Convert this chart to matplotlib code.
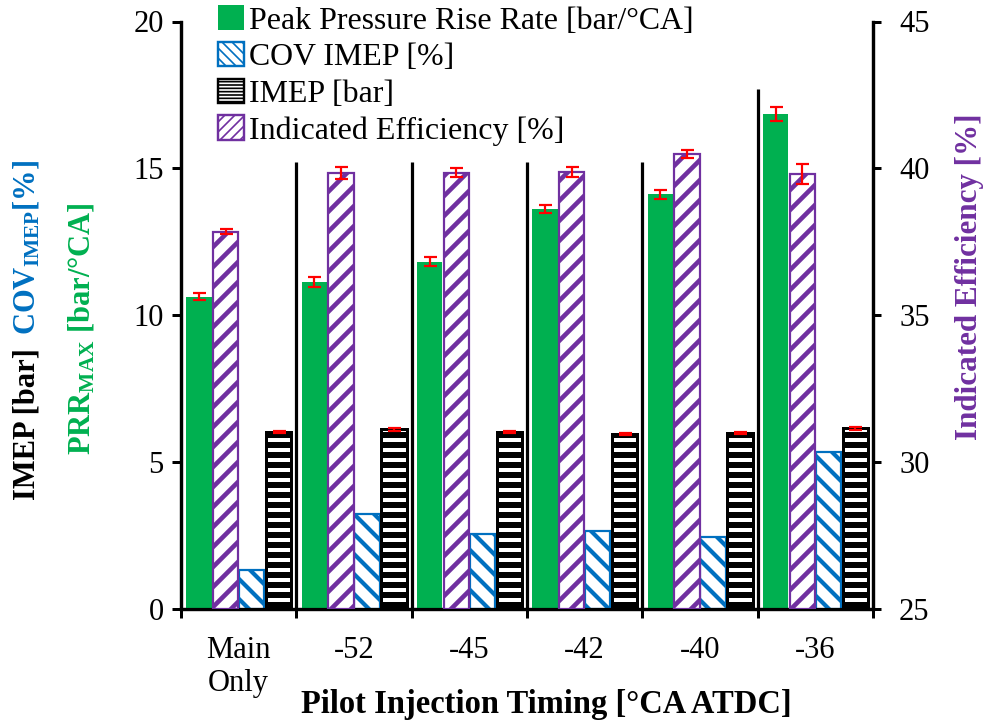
import numpy as np
import matplotlib
matplotlib.use("Agg")
import matplotlib.pyplot as plt
from matplotlib.patches import Patch

plt.rcParams['font.family'] = ['Liberation Serif', 'DejaVu Serif']
plt.rcParams['mathtext.fontset'] = 'custom'
plt.rcParams['mathtext.rm'] = 'Liberation Serif'
plt.rcParams['mathtext.bf'] = 'Liberation Serif:bold'
plt.rcParams['mathtext.it'] = 'Liberation Serif:italic'

# ---------------- data ----------------
categories = ["Main\nOnly", "-52", "-45", "-42", "-40", "-36"]
prr = [10.63, 11.14, 11.82, 13.62, 14.12, 16.86]
prr_err = [0.11, 0.17, 0.16, 0.14, 0.15, 0.24]
efficiency = [37.84, 39.83, 39.85, 39.88, 40.49, 39.81]
eff_err = [0.08, 0.20, 0.15, 0.16, 0.15, 0.33]
cov_imep = [1.32, 3.23, 2.54, 2.64, 2.45, 5.34]
imep = [6.01, 6.11, 6.03, 5.94, 5.98, 6.15]
imep_err = [0.03, 0.05, 0.03, 0.03, 0.03, 0.05]
separator_tops = [15.2, 15.2, 15.2, 15.2, 17.7]

GREEN = "#00B050"
BLUE = "#0070C0"
PURPLE = "#7030A0"
RED = "#FF0000"

DPI = 120
W, H = 991, 721


def pt(v):
    """size given as points at 100 dpi -> points at the actual dpi"""
    return v * 100.0 / DPI


def px(v):
    """pixels -> points"""
    return v * 72.0 / DPI


FS = pt(22)

fig = plt.figure(figsize=(W / DPI, H / DPI), dpi=DPI)
ax = fig.add_axes([181 / W, (H - 608.7) / H, (873 - 181) / W, (608.7 - 21.5) / H])
ax2 = ax.twinx()

n = len(categories)
centers = np.arange(n) + 0.5
offs = [-0.345, -0.113, 0.113, 0.348]
bw = 0.22


def set_hlw(bars, lw):
    for b in bars:
        if hasattr(b, "set_hatch_linewidth"):
            b.set_hatch_linewidth(lw)


err_kw = dict(ecolor=RED, elinewidth=px(2.2), capsize=px(6.5), capthick=px(2.2))

# PRR (green)
ax.bar(centers + offs[0], prr, bw, color=GREEN, edgecolor="none",
       yerr=prr_err, error_kw=err_kw, zorder=3)

# COV (blue hatched)
hl_cov = px(4.2)
with plt.rc_context({'hatch.linewidth': hl_cov}):
    b_cov = ax.bar(centers + offs[2], cov_imep, bw, facecolor="white", edgecolor=BLUE,
                   hatch="\\\\", linewidth=px(2.2), zorder=3)
set_hlw(b_cov, hl_cov)

# IMEP (black horizontal stripes)
hl_imep = px(6.0)
with plt.rc_context({'hatch.linewidth': hl_imep}):
    b_imep = ax.bar(centers + offs[3], imep, bw, facecolor="white", edgecolor="black",
                    hatch="--", linewidth=px(3.0), yerr=imep_err, error_kw=err_kw, zorder=3)
set_hlw(b_imep, hl_imep)

# Efficiency (purple hatched) on right axis
hl_eff = px(4.6)
with plt.rc_context({'hatch.linewidth': hl_eff}):
    b_eff = ax2.bar(centers + offs[1], np.array(efficiency) - 25, bw, bottom=25,
                    facecolor="white", edgecolor=PURPLE, hatch="//", linewidth=px(2.2),
                    yerr=eff_err, error_kw=err_kw, zorder=3)
set_hlw(b_eff, hl_eff)

# group separators
for i, top in enumerate(separator_tops):
    ax.plot([i + 1, i + 1], [0, top], color="black", lw=px(3.2), zorder=2,
            solid_capstyle="butt")

ax.set_xlim(0, n)
ax.set_ylim(0, 20)
ax2.set_ylim(25, 45)
ax.set_yticks([0, 5, 10, 15, 20])
ax2.set_yticks([25, 30, 35, 40, 45])

ax.set_xticks(centers)
ax.set_xticklabels(categories, fontsize=FS, linespacing=1.15)
ax.set_xticks(np.arange(n + 1), minor=True)
ax.tick_params(axis="x", which="major", length=0, pad=pt(20))
ax.tick_params(axis="x", which="minor", length=px(9), width=px(3), direction="out")
ax.tick_params(axis="y", labelsize=FS, length=px(9), width=px(3), direction="out", pad=pt(6))
ax2.tick_params(axis="y", labelsize=FS, length=px(8), width=px(3), direction="out", pad=pt(13))

for a in (ax, ax2):
    a.spines["top"].set_visible(False)
    for s in ("left", "right", "bottom"):
        a.spines[s].set_linewidth(px(3.2))

# axis labels
fig.text(27 / W, 1 - 424.5 / H, "IMEP [bar]", rotation=90, ha="center", va="center",
         fontsize=FS, fontweight="bold", color="black")
fig.text(27 / W, 1 - 247.5 / H, r"$\mathbf{COV}_{\mathbf{IMEP}}$[%]", rotation=90,
         ha="center", va="center", fontsize=FS, fontweight="bold", color=BLUE)
fig.text(82 / W, 1 - 329 / H, r"$\mathbf{PRR}_{\mathbf{MAX}}$ [bar/°CA]", rotation=90,
         ha="center", va="center", fontsize=FS, fontweight="bold", color=GREEN)
fig.text(970 / W, 1 - 277 / H, "Indicated Efficiency [%]", rotation=90,
         ha="center", va="center", fontsize=pt(22.4), fontweight="bold", color=PURPLE)
fig.text(546.7 / W, 1 - 704 / H, "Pilot Injection Timing [°CA ATDC]",
         ha="center", va="center", fontsize=pt(23.4), fontweight="bold")

# legend
hl_leg = px(2.4)
with plt.rc_context({'hatch.linewidth': hl_leg}):
    handles = [
        Patch(facecolor=GREEN, edgecolor="none"),
        Patch(facecolor="white", edgecolor=BLUE, hatch="\\\\\\\\", linewidth=px(2.4)),
        Patch(facecolor="white", edgecolor="black", hatch="------", linewidth=px(2.4)),
        Patch(facecolor="white", edgecolor=PURPLE, hatch="////", linewidth=px(2.4)),
    ]
for h in handles:
    if hasattr(h, "set_hatch_linewidth"):
        h.set_hatch_linewidth(hl_leg)
labels = ["Peak Pressure Rise Rate [bar/°CA]", "COV IMEP [%]", "IMEP [bar]",
          "Indicated Efficiency [%]"]
leg = ax2.legend(handles, labels, loc="upper left", bbox_to_anchor=(215 / W, 1 - 2 / H),
                 bbox_transform=fig.transFigure, frameon=False, fontsize=pt(23),
                 handlelength=0.8, handleheight=0.8, handletextpad=0.15,
                 labelspacing=0.2, borderpad=0.1, borderaxespad=0)
leg.set_zorder(10)

fig.savefig("out.png", dpi=DPI)
